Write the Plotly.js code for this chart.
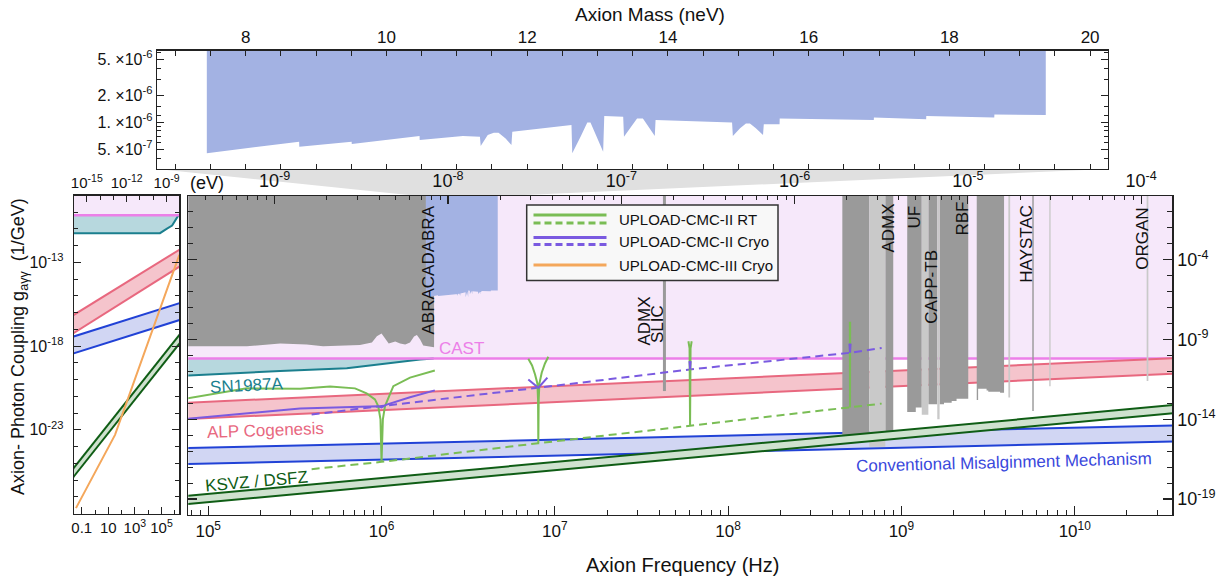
<!DOCTYPE html>
<html><head><meta charset="utf-8">
<script src="https://cdn.plot.ly/plotly-3.0.1.min.js"></script>
<style>body{margin:0;padding:0;background:#fff}#chart{width:1229px;height:580px}</style>
</head><body><div id="chart"></div>
<script>
// ================= DATA =================
const HZ_PER_EV = 2.418e14;
const HZ_PER_NEV = 2.418e5;
const CAST_G = 6.6e-11;

// tick labels
const hzTickVals = [1e5, 1e6, 1e7, 1e8, 1e9, 1e10];
const hzTickText = ['10<sup>5</sup>', '10<sup>6</sup>', '10<sup>7</sup>', '10<sup>8</sup>', '10<sup>9</sup>', '10<sup>10</sup>'];
const evTickVals = [1e-9, 1e-8, 1e-7, 1e-6, 1e-5, 1e-4];
const evTickText = ['10<sup>-9</sup>', '10<sup>-8</sup>', '10<sup>-7</sup>', '10<sup>-6</sup>', '10<sup>-5</sup>', '10<sup>-4</sup>'];
const gTickVals = [1e-4, 1e-9, 1e-14, 1e-19];
const gTickText = ['10<sup>-4</sup>', '10<sup>-9</sup>', '10<sup>-14</sup>', '10<sup>-19</sup>'];
const lowHzTickVals = [0.1, 10, 1e3, 1e5];
const lowHzTickText = ['0.1', '10', '10<sup>3</sup>', '10<sup>5</sup>'];
const lowEvTickVals = [1e-15, 1e-12, 1e-9];
const lowEvTickText = ['10<sup>-15</sup>', '10<sup>-12</sup>', '10<sup>-9</sup>'];
const lowGTickVals = [1e-13, 1e-18, 1e-23];
const lowGTickText = ['10<sup>-13</sup>', '10<sup>-18</sup>', '10<sup>-23</sup>'];
const insetGTickVals = [5e-7, 1e-6, 2e-6, 5e-6];
const insetGTickText = ['5. ×10<sup>-7</sup>', '1. ×10<sup>-6</sup>', '2. ×10<sup>-6</sup>', '5. ×10<sup>-6</sup>'];
const insetGMinor = [3e-7, 4e-7, 6e-7, 7e-7, 8e-7, 9e-7, 1.2e-6, 1.5e-6, 3e-6, 4e-6, 6e-6];

// SN1987A lower boundary
const snF = [1e-2, 7.7e4, 2.6e5, 6.3e5, 1.67e6, 2.0e6];
const snG = [5.6e-12, 5.6e-12, 1.05e-11, 1.6e-11, 5.6e-11, 6.6e-11];

// bands (power laws, read at two frequencies)
const bandF = [1e-2, 1e11];
const alpHi = [4.7e-17, 1.1e-10];
const alpLo = [3.8e-18, 1.2e-11];
const cmmHi = [3.0e-18, 5.3e-15];
const cmmLo = [2.95e-19, 5.25e-16];
const ksvzHi = [2.1e-26, 2.1e-13];
const ksvzLo = [6.4e-27, 6.4e-14];

// ABRACADABRA lower boundary
const abraF = [7.0e4, 1.67e5, 2.6e5, 3.7e5, 4.6e5, 7.5e5, 8.8e5, 9.4e5, 1.0e6, 1.06e6, 1.1e6, 1.2e6, 1.28e6, 1.37e6, 1.46e6, 1.54e6, 1.6e6, 1.67e6, 1.74e6, 2.01e6];
const abraG = [3.8e-10, 3.8e-10, 5.6e-10, 4.9e-10, 3.8e-10, 4.6e-10, 6.5e-10, 1.6e-9, 2.4e-9, 1.0e-9, 5.6e-10, 7.5e-10, 5.6e-10, 4.9e-10, 6.5e-10, 1.55e-9, 1.9e-9, 1.0e-9, 4.2e-10, 3.3e-10];

// zoomed exclusion (inset), mass in neV and its lower coupling edge
const shaftM = [7.448, 8.760, 8.762, 9.506, 9.508, 10.471, 10.473, 11.088, 11.329, 11.34, 11.44, 11.526, 11.593, 11.694, 11.777, 11.789, 12.63, 12.641, 12.759, 12.855, 12.9, 12.983, 13.08, 13.096, 13.365, 13.376, 13.477, 13.562, 13.645, 13.73, 13.814, 13.825, 14.912, 14.923, 15.026, 15.109, 15.166, 15.25, 15.352, 15.363, 15.587, 15.589, 16.926, 16.928, 17.67, 17.672, 18.638, 18.64, 19.37];
const shaftG = [4.52e-7, 6.07e-7, 5.35e-7, 6.07e-7, 5.73e-7, 7.03e-7, 6.34e-7, 7.03e-7, 6.9e-7, 5.45e-7, 7.2e-7, 7.64e-7, 7.64e-7, 6.6e-7, 5.58e-7, 7.85e-7, 9.3e-7, 4.52e-7, 6.9e-7, 9.9e-7, 9.9e-7, 6.9e-7, 4.71e-7, 1.17e-6, 1.15e-6, 6.9e-7, 8.9e-7, 1.1e-6, 1.1e-6, 8.9e-7, 7.03e-7, 1.06e-6, 9.9e-7, 7.03e-7, 8.55e-7, 9.7e-7, 9.7e-7, 8.55e-7, 7.2e-7, 9.5e-7, 9.5e-7, 1.1e-6, 1.06e-6, 1.13e-6, 1.08e-6, 1.17e-6, 1.13e-6, 1.22e-6, 1.2e-6];

// haloscopes
const haloDarkF1 = [4.56e8, 8.07e8, 1.08e9, 1.21e9, 1.43e9, 1.66e9, 1.76e9, 1.95e9, 2.08e9, 2.72e9, 2.77e9, 3.10e9, 3.17e9, 3.71e9, 5.69e9];
const haloDarkF2 = [6.53e8, 8.97e8, 1.21e9, 1.31e9, 1.61e9, 1.76e9, 1.95e9, 2.08e9, 2.43e9, 2.77e9, 3.10e9, 3.17e9, 3.71e9, 3.91e9, 5.80e9];
const haloDarkG = [5.6e-16, 1.0e-15, 2.9e-14, 5.4e-14, 8.7e-14, 8.7e-14, 1.1e-13, 1.4e-13, 1.95e-13, 1.6e-13, 8.3e-13, 6.3e-13, 5.4e-13, 4.7e-13, 3.3e-14];
const haloLightF1 = [6.53e8, 1.31e9, 1.61e9, 4.14e9, 7.13e9, 2.60e10];
const haloLightF2 = [8.07e8, 1.43e9, 1.66e9, 4.24e9, 7.26e9, 2.66e10];
const haloLightG = [1.9e-16, 1.95e-14, 1.0e-14, 2.3e-13, 1.2e-12, 2.5e-12];
const slicF = 4.29e7, slicG = 5.9e-13;

// UPLOAD projections
const rtSolidF = [7.0e4, 1.67e5, 3.39e5, 5.05e5, 7.03e5, 8.2e5, 9.16e5, 9.57e5, 9.86e5, 1.0e6, 1.018e6, 1.047e6, 1.17e6, 1.46e6, 2.03e6, null,
  7.03e6, 7.39e6, 7.69e6, 7.93e6, 8.0e6, 8.03e6, 8.07e6, 8.15e6, 8.4e6, 8.77e6, 9.17e6, null,
  5.9e7, 5.99e7, 6.03e7, 6.07e7, 6.16e7, null, 5.04e8, 5.05e8, 5.06e8];
const rtSolidG = [1.8e-13, 8.7e-13, 8.3e-13, 1.15e-12, 8.7e-13, 4.2e-13, 1.78e-13, 6.8e-14, 1.0e-14, 2.15e-17, 1.0e-14, 6.8e-14, 1.2e-12, 4.1e-12, 1.15e-11, null,
  6.2e-11, 2.37e-11, 6.5e-12, 1.78e-12, 1.78e-13, 3.16e-16, 1.78e-13, 1.78e-12, 8.3e-12, 3.16e-11, 8.3e-11, null,
  7.8e-10, 2.8e-10, 3.8e-15, 2.8e-10, 7.8e-10, null, 1.3e-8, 5.4e-14, 1.3e-8];
const rtDashF = [3.95e5, 1.0e6, 8.03e6, 6.03e7, 5.05e8, 7.69e8];
const rtDashG = [7.5e-18, 2.15e-17, 3.16e-16, 3.8e-15, 5.4e-14, 9.6e-14];
const cryoSolidF = [7.0e4, 3.39e5, 9.55e5, 1.0e6, 1.06e6, 1.46e6, 2.03e6, null, 7.03e6, 8.03e6, 9.06e6, null, 5.98e7, 6.03e7, 6.08e7, null, 5.01e8, 5.05e8, 5.09e8];
const cryoSolidG = [1.0e-14, 4.7e-14, 6.5e-14, 5.6e-14, 8.1e-14, 2.4e-13, 6.5e-13, null, 3.16e-12, 9.5e-13, 4.1e-12, null, 4.4e-11, 1.33e-11, 4.4e-11, null, 5.6e-10, 1.48e-10, 5.6e-10];
const cryoDashF = [3.95e5, 1.0e6, 8.03e6, 6.03e7, 5.05e8, 7.69e8];
const cryoDashG = [2.0e-14, 6.8e-14, 9.5e-13, 1.33e-11, 1.48e-10, 3.0e-10];
const c3F = [0.037, 32, 2.2e6];
const c3G = [2.1e-28, 5.0e-24, 2.8e-13];

// ================= GEOMETRY / STYLE =================
const W = 1229, H = 580;
const px = v => v / W, py = v => 1 - v / H;
const FONT = 'Liberation Sans, Arial, Helvetica, sans-serif';
const MAIN_X = [188.3, 1172.3], MAIN_Y = [196, 515];
const LEFT_X = [74, 179.3], LEFT_Y = [195.5, 513.5];
const INS_X = [157, 1107.7], INS_Y = [50.7, 169];
const MAIN_XR = [4.885, 10.563], MAIN_YR = [-20, 0];
const LEFT_XR = [-1.58, 6.34], LEFT_YR = [-28, -9];
const INS_XR = [6.74, 20.25], INS_YR = [-6.52, -5.205];
const LEV = Math.log10(HZ_PER_EV);
const TOP = 10, XLO = 1e-3, XHI = 1e12;

const C = {
  lav: '#f6e8fa', cast: '#ec7fe8', tealF: '#b7d8de', tealL: '#1b7f8e',
  pinkF: '#f5c4cc', pinkL: '#e8687f', blueF: '#d1d6f3', blueL: '#2142d6',
  grnF: '#cfe2cf', grnL: '#0f5d15', dark: '#9a9a9a', light: '#c9c9c9',
  shaft: '#a3b2e3', rt: '#7abd55', cryo: '#7a5ae0', c3: '#f4a75b', funnel: '#e0e0e0'
};

function logMinor(e0, e1, mults) {
  const out = [];
  for (let e = e0; e <= e1; e++) for (const m of mults) out.push(m * Math.pow(10, e));
  return out;
}
const M29 = [2, 3, 4, 5, 6, 7, 8, 9];

// ================= TRACES =================
const traces = [];
function add(t) { traces.push(Object.assign({type: 'scatter', mode: 'lines', hoverinfo: 'skip', showlegend: false}, t)); }
function rects(f1, f2, g) {
  const x = [], y = [];
  for (let i = 0; i < f1.length; i++) { x.push(f1[i], f1[i], f2[i], f2[i], f1[i], null); y.push(g[i], TOP, TOP, g[i], g[i], null); }
  return {x, y};
}
function band(xa, ya, hi, lo, fc, lc) {
  add({x: [bandF[0], bandF[1], bandF[1], bandF[0]], y: [hi[0], hi[1], lo[1], lo[0]], fill: 'toself', fillcolor: fc, line: {width: 0}, xaxis: xa, yaxis: ya});
  add({x: bandF, y: hi, line: {color: lc, width: 2}, xaxis: xa, yaxis: ya});
  add({x: bandF, y: lo, line: {color: lc, width: 2}, xaxis: xa, yaxis: ya});
}
function base(xa, ya) {
  add({x: [XLO, XHI, XHI, XLO], y: [CAST_G, CAST_G, TOP, TOP], fill: 'toself', fillcolor: C.lav, line: {width: 0}, xaxis: xa, yaxis: ya});
  add({x: snF.concat(snF.slice().reverse()), y: snG.concat(snF.map(() => CAST_G)), fill: 'toself', fillcolor: C.tealF, line: {width: 0}, xaxis: xa, yaxis: ya});
  add({x: snF, y: snG, line: {color: C.tealL, width: 2}, xaxis: xa, yaxis: ya});
  add({x: [XLO, XHI], y: [CAST_G, CAST_G], line: {color: C.cast, width: 2.5}, xaxis: xa, yaxis: ya});
  band(xa, ya, alpHi, alpLo, C.pinkF, C.pinkL);
  band(xa, ya, cmmHi, cmmLo, C.blueF, C.blueL);
}
// ---- main panel
base('x', 'y');
add({x: abraF.concat([abraF[abraF.length - 1], abraF[0]]), y: abraG.concat([TOP, TOP]), fill: 'toself', fillcolor: C.dark, line: {width: 0}, xaxis: 'x', yaxis: 'y'});
const shaftF = shaftM.map(m => m * HZ_PER_NEV);
add({x: shaftF.concat([shaftF[shaftF.length - 1], shaftF[0]]), y: shaftG.concat([TOP, TOP]), fill: 'toself', fillcolor: C.shaft, line: {width: 0}, xaxis: 'x', yaxis: 'y'});
const hd = rects(haloDarkF1, haloDarkF2, haloDarkG);
add({x: hd.x, y: hd.y, fill: 'toself', fillcolor: C.dark, line: {width: 0}, xaxis: 'x', yaxis: 'y'});
const hl = rects(haloLightF1, haloLightF2, haloLightG);
add({x: hl.x, y: hl.y, fill: 'toself', fillcolor: C.light, line: {width: 0}, xaxis: 'x', yaxis: 'y'});
band('x', 'y', ksvzHi, ksvzLo, C.grnF, C.grnL);
add({x: [slicF, slicF], y: [slicG, TOP], line: {color: '#9a9a9a', width: 3}, xaxis: 'x', yaxis: 'y'});
add({x: rtDashF, y: rtDashG, line: {color: C.rt, width: 2, dash: '8px,5px'}, xaxis: 'x', yaxis: 'y'});
add({x: cryoDashF, y: cryoDashG, line: {color: C.cryo, width: 2, dash: '8px,5px'}, xaxis: 'x', yaxis: 'y'});
add({x: rtSolidF, y: rtSolidG, line: {color: C.rt, width: 2}, xaxis: 'x', yaxis: 'y'});
add({x: cryoSolidF, y: cryoSolidG, line: {color: C.cryo, width: 2}, xaxis: 'x', yaxis: 'y'});
// ---- left panel
base('x2', 'y2');
band('x2', 'y2', ksvzHi, ksvzLo, C.grnF, C.grnL);
add({x: c3F, y: c3G, line: {color: C.c3, width: 2}, xaxis: 'x2', yaxis: 'y2'});
// ---- inset
add({x: shaftM.concat([shaftM[shaftM.length - 1], shaftM[0]]), y: shaftG.concat([TOP, TOP]), fill: 'toself', fillcolor: C.shaft, line: {width: 0}, xaxis: 'x3', yaxis: 'y3'});
// ---- empty traces so the mass (eV) axes get drawn
add({x: [], y: [], xaxis: 'x4', yaxis: 'y'});
add({x: [], y: [], xaxis: 'x5', yaxis: 'y2'});

// ================= AXES =================
function ax(o) {
  return Object.assign({showgrid: false, zeroline: false, showline: true, linecolor: '#222', linewidth: 1.4,
    ticks: 'inside', tickcolor: '#222', tickwidth: 1.1, ticklen: 9, fixedrange: true,
    tickfont: {family: FONT, size: 17, color: '#111'}}, o);
}
function minor(vals, len) { return {tickmode: 'array', tickvals: vals, ticks: 'inside', ticklen: len, tickcolor: '#222', tickwidth: 1}; }

const layout = {
  width: W, height: H, margin: {l: 0, r: 0, t: 0, b: 0},
  paper_bgcolor: '#ffffff', plot_bgcolor: '#ffffff', showlegend: false,
  font: {family: FONT, color: '#111'},
  xaxis: ax({domain: [px(MAIN_X[0]), px(MAIN_X[1])], anchor: 'y', type: 'log', range: MAIN_XR,
    tickmode: 'array', tickvals: hzTickVals, ticktext: hzTickText, minor: minor(logMinor(4, 10, M29), 5)}),
  yaxis: ax({domain: [py(MAIN_Y[1]), py(MAIN_Y[0])], anchor: 'x', type: 'log', range: MAIN_YR, side: 'right', mirror: 'ticks',
    tickmode: 'array', tickvals: gTickVals, ticktext: gTickText, tickfont: {family: FONT, size: 18, color: '#111'},
    minor: minor(logMinor(-20, 0, [1]), 5)}),
  xaxis4: ax({overlaying: 'x', anchor: 'y', side: 'top', type: 'log', range: [MAIN_XR[0] - LEV, MAIN_XR[1] - LEV],
    tickmode: 'array', tickvals: evTickVals, ticktext: evTickText, ticklen: 8, tickfont: {family: FONT, size: 18, color: '#111'},
    minor: minor(logMinor(-10, -4, M29), 4)}),
  xaxis2: ax({domain: [px(LEFT_X[0]), px(LEFT_X[1])], anchor: 'y2', type: 'log', range: LEFT_XR,
    tickmode: 'array', tickvals: lowHzTickVals, ticktext: lowHzTickText, ticklen: 7, tickfont: {family: FONT, size: 15, color: '#111'},
    minor: minor(logMinor(-2, 6, [1]), 4)}),
  yaxis2: ax({domain: [py(LEFT_Y[1]), py(LEFT_Y[0])], anchor: 'x2', type: 'log', range: LEFT_YR, mirror: 'ticks',
    tickmode: 'array', tickvals: lowGTickVals, ticktext: lowGTickText, ticklen: 7, ticklabelstandoff: 6,
    tickfont: {family: FONT, size: 16, color: '#111'}, minor: minor(logMinor(-28, -9, [1]), 4)}),
  xaxis5: ax({overlaying: 'x2', anchor: 'y2', side: 'top', type: 'log', range: [LEFT_XR[0] - LEV, LEFT_XR[1] - LEV],
    tickmode: 'array', tickvals: lowEvTickVals, ticktext: lowEvTickText, ticklen: 6, tickfont: {family: FONT, size: 15, color: '#111'},
    minor: minor(logMinor(-16, -8, [1]), 4)}),
  xaxis3: ax({domain: [px(INS_X[0]), px(INS_X[1])], anchor: 'y3', range: INS_XR, side: 'top', mirror: 'ticks',
    tickmode: 'linear', tick0: 0, dtick: 2, ticklen: 5, minor: {dtick: 0.5, tick0: 0, ticks: 'inside', ticklen: 5, tickcolor: '#222', tickwidth: 1}}),
  yaxis3: ax({domain: [py(INS_Y[1]), py(INS_Y[0])], anchor: 'x3', type: 'log', range: INS_YR, mirror: 'ticks',
    tickmode: 'array', tickvals: insetGTickVals, ticktext: insetGTickText, ticklen: 7, tickfont: {family: FONT, size: 16, color: '#111'},
    minor: minor(insetGMinor, 4)})
};

// funnel from inset to main panel
function mainPaperX(f) { return px(MAIN_X[0]) + (Math.log10(f) - MAIN_XR[0]) / (MAIN_XR[1] - MAIN_XR[0]) * (px(MAIN_X[1]) - px(MAIN_X[0])); }
const fx0 = mainPaperX(INS_XR[0] * HZ_PER_NEV), fx1 = mainPaperX(INS_XR[1] * HZ_PER_NEV);
const shapes = [{type: 'path', xref: 'paper', yref: 'paper', layer: 'below',
  path: `M ${px(INS_X[0])},${py(INS_Y[1])} L ${px(INS_X[1])},${py(INS_Y[1])} L ${fx1},${py(MAIN_Y[0])} L ${fx0},${py(MAIN_Y[0])} Z`,
  fillcolor: C.funnel, line: {width: 0}}];

// legend (decoration)
shapes.push({type: 'rect', xref: 'paper', yref: 'paper', x0: px(526.7), x1: px(778), y0: py(280.5), y1: py(205), fillcolor: '#f8f8f8', line: {color: '#333', width: 1.5}, layer: 'above'});
const legRows = [[215, C.rt, 'solid'], [223, C.rt, '7px,4px'], [237.5, C.cryo, 'solid'], [244.5, C.cryo, '7px,4px'], [265, C.c3, 'solid']];
legRows.forEach(r => shapes.push({type: 'line', xref: 'paper', yref: 'paper', x0: px(533.5), x1: px(606.5), y0: py(r[0]), y1: py(r[0]), line: {color: r[1], width: 3.2, dash: r[2]}, layer: 'above'}));

const annotations = [];
function txt(t, x, y, o) {
  annotations.push(Object.assign({text: t, xref: 'paper', yref: 'paper', x: px(x), y: py(y), xanchor: 'center', yanchor: 'middle', showarrow: false,
    font: {family: FONT, size: 17, color: '#111'}}, o || {}));
}
txt('UPLOAD-CMC-II RT', 616.5, 219.5, {xanchor: 'left', font: {family: FONT, size: 15, color: '#111'}});
txt('UPLOAD-CMC-II Cryo', 616.5, 241.5, {xanchor: 'left', font: {family: FONT, size: 15, color: '#111'}});
txt('UPLOAD-CMC-III Cryo', 616.5, 265, {xanchor: 'left', font: {family: FONT, size: 15, color: '#111'}});

txt('ABRACADABRA', 428.5, 270, {textangle: -90});
txt('ADMX', 643.5, 321, {textangle: -90});
txt('SLIC', 657.5, 324.5, {textangle: -90});
txt('ADMX', 887.5, 228, {textangle: -90});
txt('UF', 914, 217.5, {textangle: -90});
txt('CAPP-TB', 931.7, 287, {textangle: -90});
txt('RBF', 962.5, 219, {textangle: -90});
txt('HAYSTAC', 1026.7, 244, {textangle: -90});
txt('ORGAN', 1141.7, 239, {textangle: -90});
txt('CAST', 461.7, 348.3, {font: {family: FONT, size: 17, color: C.cast}});
txt('SN1987A', 246, 385, {textangle: -3, font: {family: FONT, size: 17, color: C.tealL}});
txt('ALP Cogenesis', 265, 430, {textangle: -2, font: {family: FONT, size: 17, color: C.pinkL}});
txt('KSVZ / DSFZ', 256, 481, {textangle: -5, font: {family: FONT, size: 17, color: C.grnL}});
txt('Conventional Misalginment Mechanism', 1004, 462, {textangle: -1.5, font: {family: FONT, size: 17, color: '#3a48dc'}});
txt('(eV)', 206.7, 183, {font: {family: FONT, size: 18, color: '#111'}});
txt('Axion Mass (neV)', 650, 15, {font: {family: FONT, size: 19, color: '#111'}});
txt('Axion Frequency (Hz)', 682, 565, {font: {family: FONT, size: 20, color: '#111'}});
txt('Axion- Photon Coupling g<sub>aγγ</sub>  (1/GeV)', 19, 347, {textangle: -90, font: {family: FONT, size: 18, color: '#111'}});

layout.shapes = shapes;
layout.annotations = annotations;

Plotly.newPlot('chart', traces, layout, {staticPlot: true, displayModeBar: false});
</script>
</body></html>
